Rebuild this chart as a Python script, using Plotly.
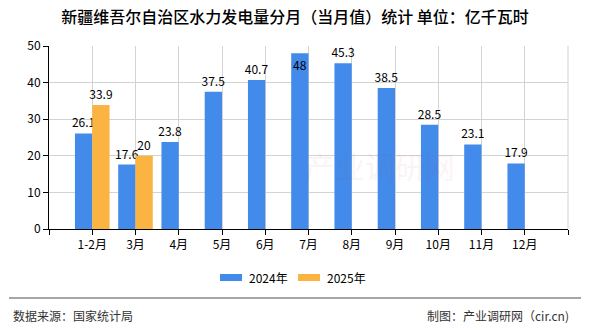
import plotly.graph_objects as go

# Monthly hydropower generation, Xinjiang (100 million kWh)
months = ["1-2月", "3月", "4月", "5月", "6月", "7月", "8月", "9月", "10月", "11月", "12月"]
values_2024 = [26.1, 17.6, 23.8, 37.5, 40.7, 48, 45.3, 38.5, 28.5, 23.1, 17.9]
values_2025 = [33.9, 20, None, None, None, None, None, None, None, None, None]
series_names = ["2024年", "2025年"]
y_ticks = [0, 10, 20, 30, 40, 50]

BLUE = "#428BEB"
ORANGE = "#FBB441"
FONT = "Noto Sans CJK SC"

W, H = 590, 330
L, R, T, B = 49, 22, 46, 101
PW, PH = W - L - R, H - T - B


def px_x(x):
    return (x - L) / PW


def px_y(y):
    return (H - B - y) / PH


x_pos = list(range(len(months)))


def label_positions(vals):
    # values touching the top of the axis get their label inside the bar
    return ["inside" if (v is not None and v >= 47) else "outside" for v in vals]


fig = go.Figure()
for name, vals, color in [(series_names[0], values_2024, BLUE),
                          (series_names[1], values_2025, ORANGE)]:
    fig.add_trace(go.Bar(
        name=name, x=x_pos, y=vals, marker_color=color, marker_line_width=0,
        text=["" if v is None else f"{v:g}" for v in vals],
        textposition=label_positions(vals), constraintext="none",
        insidetextanchor="end", textfont=dict(family=FONT, size=12, color="black"),
        cliponaxis=False, showlegend=False,
    ))

fig.update_layout(
    width=W, height=H,
    margin=dict(l=L, r=R, t=T, b=B),
    paper_bgcolor="white", plot_bgcolor="white",
    barmode="group", bargap=0.2, bargroupgap=0,
    font=dict(family=FONT, size=12, color="black"),
    title=dict(
        text="新疆维吾尔自治区水力发电量分月（当月值）统计 单位：亿千瓦时",
        x=0.5, xanchor="center", y=1 - 17 / H, yanchor="middle",
        font=dict(family=FONT, size=16, color="black", weight=500),
    ),
)

fig.update_xaxes(
    range=[-1, len(months)],
    tickmode="array",
    tickvals=list(range(-1, len(months) + 1)),
    ticktext=[""] + months + [""],
    showgrid=True, gridcolor="#D3D3D3", gridwidth=1,
    showline=True, linecolor="black", linewidth=1,
    ticks="outside", ticklen=5, tickcolor="black",
    tickfont=dict(family=FONT, size=12, color="black"),
    zeroline=False,
)
fig.update_yaxes(
    range=[0, 50],
    tickmode="array", tickvals=y_ticks,
    showgrid=True, gridcolor="#D3D3D3", gridwidth=1,
    showline=True, linecolor="black", linewidth=1,
    ticks="outside", ticklen=5, tickcolor="black",
    tickfont=dict(family=FONT, size=12, color="black"),
    zeroline=False,
)

# right border of the plotting area
fig.add_shape(type="line", xref="paper", yref="paper", x0=1, x1=1, y0=0, y1=1,
              line=dict(color="#D3D3D3", width=1))

# legend: colour swatch followed by series name
for (x0, x1, tx), name, color in zip([(220, 242, 247), (298, 320, 325)],
                                     series_names, [BLUE, ORANGE]):
    fig.add_shape(type="rect", xref="paper", yref="paper",
                  x0=px_x(x0), x1=px_x(x1), y0=px_y(281), y1=px_y(274),
                  fillcolor=color, line=dict(width=0))
    fig.add_annotation(text=name, xref="paper", yref="paper",
                       x=px_x(tx), y=px_y(277.5), xanchor="left", yanchor="middle",
                       showarrow=False, font=dict(family=FONT, size=12, color="black"))

# footer separator and source notes
fig.add_shape(type="line", xref="paper", yref="paper",
              x0=px_x(9), x1=px_x(581), y0=px_y(298), y1=px_y(298),
              line=dict(color="#888888", width=1.5))
fig.add_annotation(text="数据来源：国家统计局", xref="paper", yref="paper",
                   x=px_x(11), y=px_y(315), xanchor="left", yanchor="middle",
                   showarrow=False, font=dict(family=FONT, size=12, color="#333333"))
fig.add_annotation(text="制图：产业调研网（cir.cn)", xref="paper", yref="paper",
                   x=px_x(571), y=px_y(315), xanchor="right", yanchor="middle",
                   showarrow=False, font=dict(family=FONT, size=12, color="#333333"))

# faint watermark
fig.add_annotation(text="产业调研网", xref="paper", yref="paper",
                   x=px_x(380), y=px_y(165), showarrow=False, opacity=0.05,
                   font=dict(family=FONT, size=30, color="#C04040"))

fig.write_html("out.html")
